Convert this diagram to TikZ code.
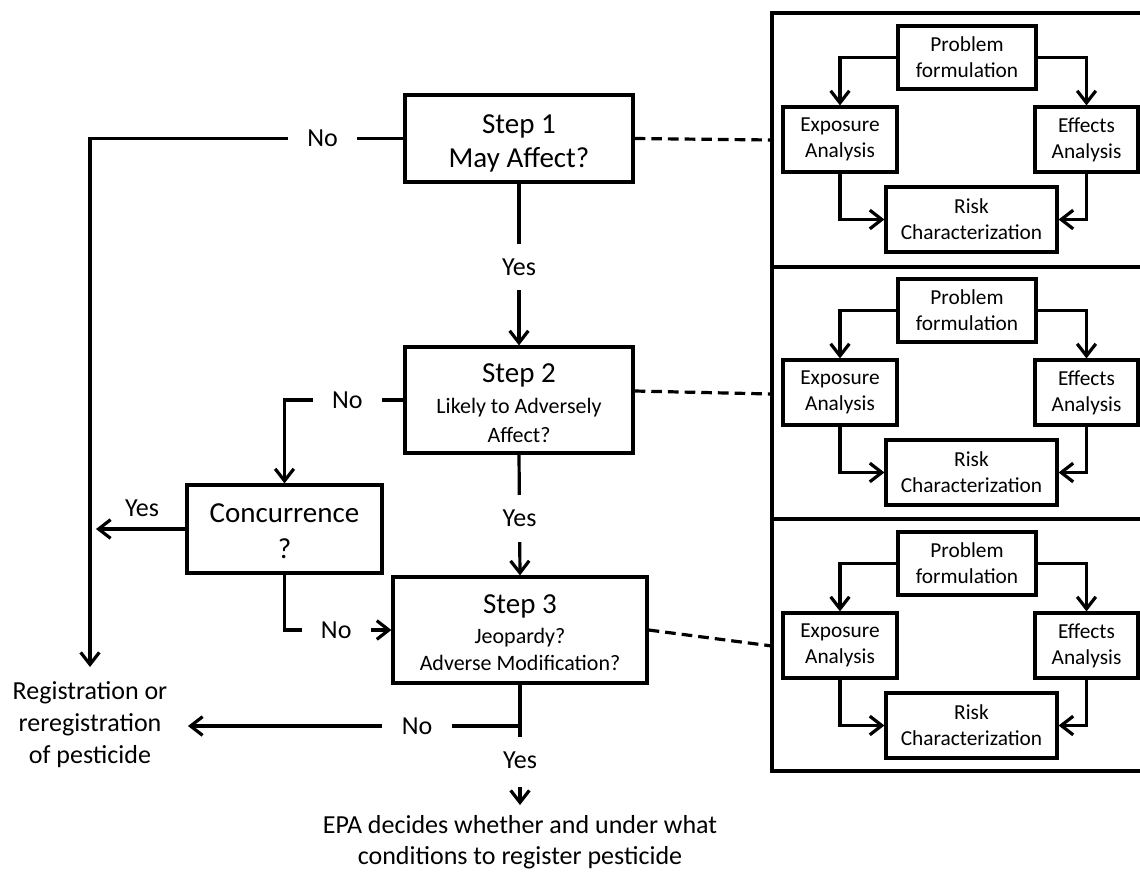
\documentclass[tikz,border=0pt]{standalone}
\usepackage{fontspec}
\setmainfont{Carlito}
\usetikzlibrary{arrows.meta,calc}
\begin{document}
\begin{tikzpicture}[x=0.75pt,y=-0.75pt,
  ln/.style={line width=2.4pt},
  arr/.style={line width=2.4pt,-{Straight Barb[length=9pt,width=14pt]}},
  mbox/.style={draw,line width=2.4pt,align=center,inner sep=0pt},
  sbox/.style={draw,line width=2.4pt,align=center,inner sep=0pt,font=\fontsize{16}{19.5}\selectfont},
  lbl/.style={fill=white,inner sep=0pt,minimum width=52pt,minimum height=35pt,font=\fontsize{19.5}{19.5}\selectfont},
  plain/.style={inner sep=0pt,align=center,font=\fontsize{19.5}{24}\selectfont},
  dashline/.style={line width=2.4pt,dash pattern=on 8pt off 4.5pt}]
\useasboundingbox (0,0) rectangle (1140,872);
\clip (0,0) rectangle (1140,872);

% ---- right panels ----
\draw[ln] (1150,13) -- (772,13) -- (772,771) -- (1150,771);
\draw[ln] (772,267) -- (1150,267);
\draw[ln] (772,519) -- (1150,519);
\foreach \i/\o in {1/0,2/253,3/506}{
  \node[sbox,minimum width=103.5pt,minimum height=47.25pt] (pf\i) at (967,{57.5+\o}) {Problem\\formulation};
  \node[sbox,minimum width=85.5pt,minimum height=48.75pt] (ex\i) at (840,{139.5+\o}) {Exposure\\Analysis};
  \node[sbox,minimum width=77.25pt,minimum height=48.75pt] (ef\i) at (1086.5,{139.5+\o}) {Effects\\Analysis};
  \node[sbox,minimum width=128.25pt,minimum height=48.75pt] (rc\i) at (971.5,{219.5+\o}) {Risk\\Characterization};
  \draw[arr] (pf\i.west) -| (ex\i.north);
  \draw[arr] (pf\i.east) -| (ef\i.north);
  \draw[arr] (ex\i.south) |- (rc\i.west);
  \draw[arr] (ef\i.south) |- (rc\i.east);
}
\coordinate (d1) at (772,140);
\coordinate (d2) at (772,394);
\coordinate (d3) at (772,646);

% ---- main boxes ----
\node[mbox,minimum width=171pt,minimum height=65.25pt,font=\fontsize{21.75}{25.5}\selectfont] (s1) at (519,138.5) {\rule{0pt}{21pt}Step 1\\May Affect?};
\node[mbox,minimum width=171pt,minimum height=79.5pt,font=\fontsize{16.5}{21.5}\selectfont] (s2) at (519,400)
  {{\fontsize{21.75}{21.5}\selectfont\rule{0pt}{19pt}Step 2}\\[2pt]Likely to Adversely\\Affect?};
\node[mbox,minimum width=190.5pt,minimum height=79.5pt,font=\fontsize{16.5}{20.5}\selectfont] (s3) at (520,630)
  {{\fontsize{21.75}{21.5}\selectfont\rule{0pt}{18pt}Step 3}\\[2pt]Jeopardy?\\Adverse Modification?};
\node[mbox,minimum width=146.25pt,minimum height=66pt,font=\fontsize{21.75}{27}\selectfont] (conc) at (284.5,529) {\rule{0pt}{17pt}Concurrence\\?};

\node[plain] (reg) at (90,725) {Registration or\\reregistration\\of pesticide};
\node[plain,font=\fontsize{19.5}{23}\selectfont] (epa) at (520,842) {EPA decides whether and under what\\conditions to register pesticide};

\coordinate (c1) at (90,667);
\coordinate (c2) at (96,529);
\coordinate (j1) at (520,737);
\coordinate (j2) at (520,726);
\coordinate (c3) at (188,726);
\coordinate (j3) at (520,787);
\coordinate (c4) at (520,805);

% ---- connectors ----
\draw[arr] (s1.west) -| node[lbl,pos=0.129]{No} (c1);
\draw[arr] (s1.south) -- node[lbl,pos=0.515]{Yes} (s2.north);
\draw[arr] (s2.west) -| node[lbl,pos=0.236]{No} (conc.north);
\draw[arr] (s2.south) -- node[lbl,pos=0.53]{Yes} (s3.north);
\draw[arr] (conc.west) -- (c2);
\node[plain] (yesc) at (142,508) {Yes};
\draw[arr] (conc.south) |- node[lbl,pos=0.742]{No} (s3.west);
\draw[ln] (s3.south) -- (j1);
\draw[arr] (j2) -- node[lbl,pos=0.31]{No} (c3);
\node[plain] (yes3) at (520,760) {Yes};
\draw[arr] (j3) -- (c4);

\draw[dashline] (s1.east) -- (d1);
\draw[dashline] ([yshift=6.75pt]s2.east) -- (d2);
\draw[dashline] (s3.east) -- (d3);
\end{tikzpicture}
\end{document}
